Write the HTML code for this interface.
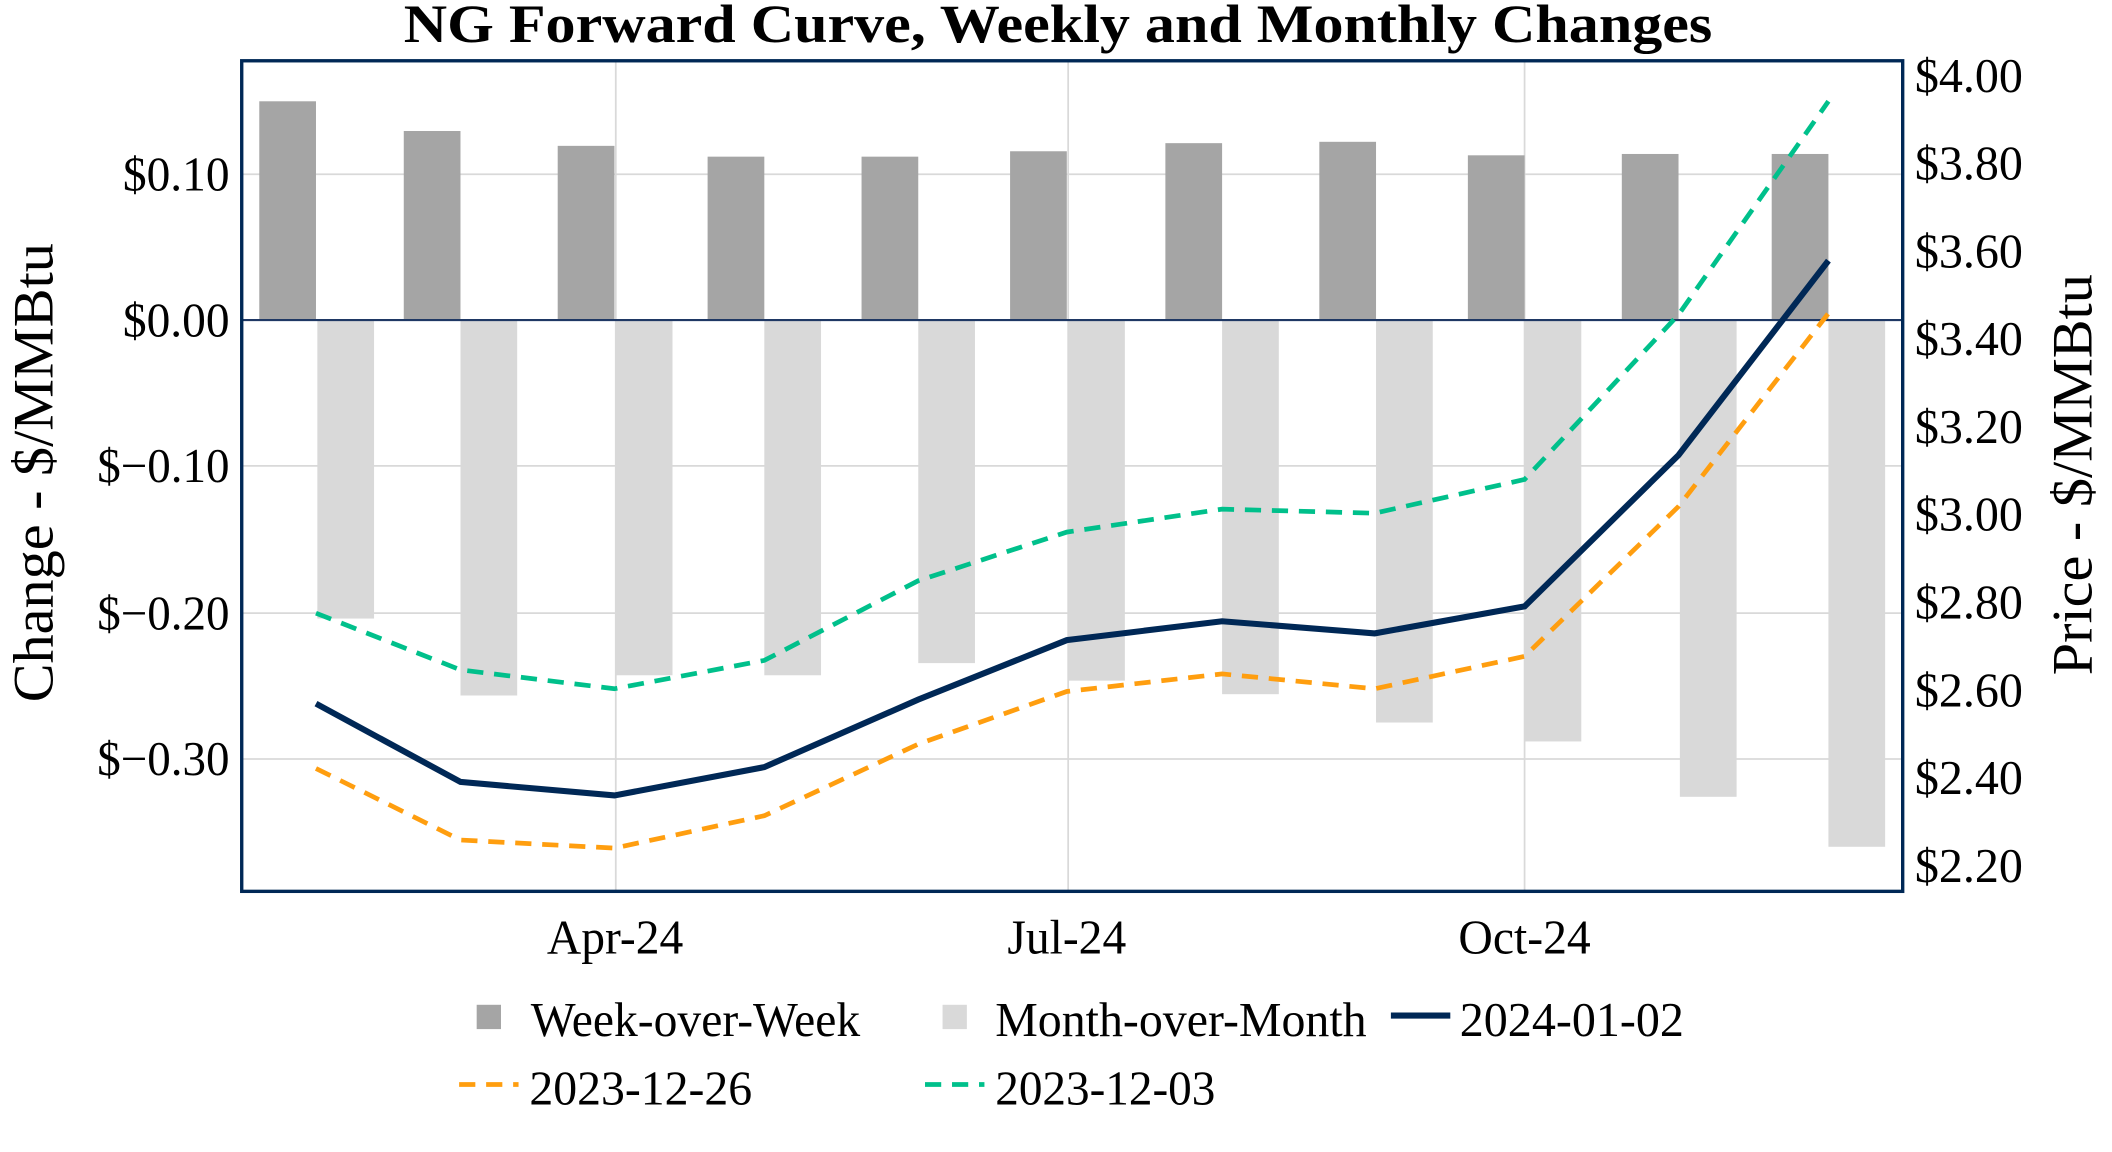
<!DOCTYPE html>
<html><head><style>html,body{margin:0;padding:0;background:#fff;}svg{display:block}</style></head>
<body>
<svg width="2112" height="1152" viewBox="0 0 1564 853" preserveAspectRatio="none" xmlns="http://www.w3.org/2000/svg" font-family="Liberation Serif, serif">
<rect width="1564" height="853" fill="#fff"/>
<text x="299" y="31" font-size="40" font-weight="bold" textLength="969" lengthAdjust="spacingAndGlyphs">NG Forward Curve, Weekly and Monthly Changes</text>
<g stroke="#d9d9d9" stroke-width="1.3">
<line x1="179" x2="1409" y1="129" y2="129"/><line x1="179" x2="1409" y1="345" y2="345"/>
<line x1="179" x2="1409" y1="454" y2="454"/><line x1="179" x2="1409" y1="562" y2="562"/>
<line x1="456" x2="456" y1="45" y2="660"/><line x1="791" x2="791" y1="45" y2="660"/><line x1="1129" x2="1129" y1="45" y2="660"/>
</g>
<g fill="#a5a5a5">
<rect x="192" y="75" width="42" height="162"/><rect x="299" y="97" width="42" height="140"/><rect x="413" y="108" width="42" height="129"/><rect x="524" y="116" width="42" height="121"/><rect x="638" y="116" width="42" height="121"/><rect x="748" y="112" width="42" height="125"/><rect x="863" y="106" width="42" height="131"/><rect x="977" y="105" width="42" height="132"/><rect x="1087" y="115" width="42" height="122"/><rect x="1201" y="114" width="42" height="123"/><rect x="1312" y="114" width="42" height="123"/>
</g>
<g fill="#d9d9d9">
<rect x="235" y="237" width="42" height="221"/><rect x="341" y="237" width="42" height="278"/><rect x="456" y="237" width="42" height="263"/><rect x="566" y="237" width="42" height="263"/><rect x="680" y="237" width="42" height="254"/><rect x="791" y="237" width="42" height="267"/><rect x="905" y="237" width="42" height="277"/><rect x="1019" y="237" width="42" height="298"/><rect x="1129" y="237" width="42" height="312"/><rect x="1244" y="237" width="42" height="353"/><rect x="1354" y="237" width="42" height="390"/>
</g>
<line x1="179" x2="1409" y1="237" y2="237" stroke="#1f3864" stroke-width="1.5"/>
<polyline fill="none" stroke="#00c08b" stroke-width="3.5" stroke-dasharray="12,8" points="234,454 341,496 455,510 566,489 680,430 790,394 905,377 1018,380 1129,355 1243,233 1354,75"/>
<polyline fill="none" stroke="#ff9e0f" stroke-width="3.5" stroke-dasharray="12,8" points="234,569 341,622 455,628 566,604 680,551 790,512 905,499 1018,510 1129,486 1243,375 1354,232"/>
<polyline fill="none" stroke="#002856" stroke-width="4.5" points="234,521 341,579 455,589 566,568 680,518 790,474 905,460 1018,469 1129,449 1243,337 1354,193"/>
<rect x="179" y="45" width="1230" height="615" fill="none" stroke="#002856" stroke-width="2.5"/>
<g font-size="36" lengthAdjust="spacingAndGlyphs">
<text x="91" y="141" textLength="79" lengthAdjust="spacingAndGlyphs">$0.10</text><text x="91" y="249" textLength="79" lengthAdjust="spacingAndGlyphs">$0.00</text><text x="72" y="357" textLength="98" lengthAdjust="spacingAndGlyphs">$−0.10</text><text x="72" y="466" textLength="98" lengthAdjust="spacingAndGlyphs">$−0.20</text><text x="72" y="574" textLength="98" lengthAdjust="spacingAndGlyphs">$−0.30</text>
</g>
<g font-size="36">
<text x="1418" y="68" textLength="80" lengthAdjust="spacingAndGlyphs">$4.00</text><text x="1418" y="133" textLength="80" lengthAdjust="spacingAndGlyphs">$3.80</text><text x="1418" y="198" textLength="80" lengthAdjust="spacingAndGlyphs">$3.60</text><text x="1418" y="263" textLength="80" lengthAdjust="spacingAndGlyphs">$3.40</text><text x="1418" y="328" textLength="80" lengthAdjust="spacingAndGlyphs">$3.20</text><text x="1418" y="393" textLength="80" lengthAdjust="spacingAndGlyphs">$3.00</text><text x="1418" y="458" textLength="80" lengthAdjust="spacingAndGlyphs">$2.80</text><text x="1418" y="523" textLength="80" lengthAdjust="spacingAndGlyphs">$2.60</text><text x="1418" y="588" textLength="80" lengthAdjust="spacingAndGlyphs">$2.40</text><text x="1418" y="653" textLength="80" lengthAdjust="spacingAndGlyphs">$2.20</text>
</g>
<g font-size="36">
<text x="405" y="706" textLength="101" lengthAdjust="spacingAndGlyphs">Apr-24</text><text x="746" y="706" textLength="88" lengthAdjust="spacingAndGlyphs">Jul-24</text><text x="1080" y="706" textLength="98" lengthAdjust="spacingAndGlyphs">Oct-24</text>
</g>
<text transform="translate(39,520) rotate(-90)" font-size="42" textLength="340" lengthAdjust="spacingAndGlyphs">Change - $/MMBtu</text>
<text transform="translate(1549,500) rotate(-90)" font-size="42" textLength="297" lengthAdjust="spacingAndGlyphs">Price - $/MMBtu</text>
<g font-size="36">
<rect x="353" y="744" width="18" height="18" fill="#a5a5a5"/><text x="393" y="767" textLength="244" lengthAdjust="spacingAndGlyphs">Week-over-Week</text>
<rect x="698" y="744" width="18" height="18" fill="#d9d9d9"/><text x="737" y="767" textLength="275" lengthAdjust="spacingAndGlyphs">Month-over-Month</text>
<line x1="1030" x2="1074" y1="752" y2="752" stroke="#002856" stroke-width="4.5"/><text x="1081" y="767" textLength="166" lengthAdjust="spacingAndGlyphs">2024-01-02</text>
<line x1="340" x2="384" y1="803" y2="803" stroke="#ff9e0f" stroke-width="3.5" stroke-dasharray="12,8"/><text x="392" y="818" textLength="165" lengthAdjust="spacingAndGlyphs">2023-12-26</text>
<line x1="685" x2="729" y1="803" y2="803" stroke="#00c08b" stroke-width="3.5" stroke-dasharray="12,8"/><text x="737" y="818" textLength="163" lengthAdjust="spacingAndGlyphs">2023-12-03</text>
</g>
</svg>
</body></html>
